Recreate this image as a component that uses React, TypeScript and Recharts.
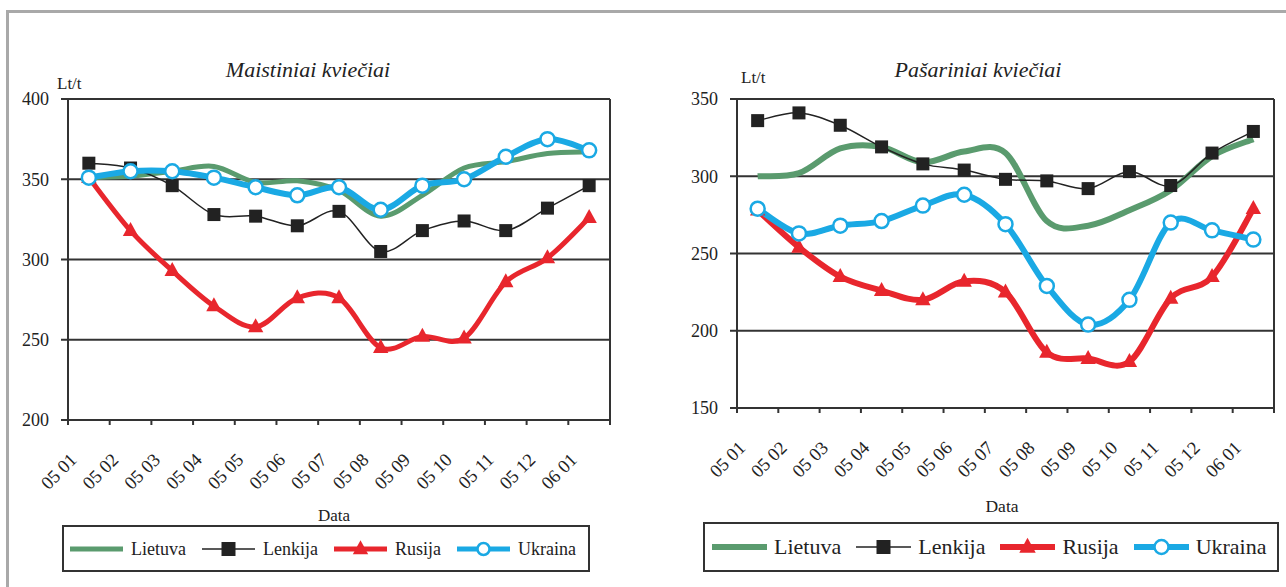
import React from "react";
import { LineChart, Line, XAxis, YAxis, CartesianGrid, ReferenceLine, Legend } from "recharts";

// ---------- data ----------
const CATS = ["05 01", "05 02", "05 03", "05 04", "05 05", "05 06", "05 07", "05 08", "05 09", "05 10", "05 11", "05 12", "06 01"];

// Maistiniai kviečiai (food wheat), Lt/t
const FOOD_LIETUVA = [351, 352, 355, 358, 348, 349, 343, 327, 340, 357, 361, 366, 367];
const FOOD_LENKIJA = [360, 357, 346, 328, 327, 321, 330, 305, 318, 324, 318, 332, 346];
const FOOD_RUSIJA = [351, 318, 293, 271, 258, 276, 276, 245, 252, 251, 286, 301, 326];
const FOOD_UKRAINA = [351, 355, 355, 351, 345, 340, 345, 331, 346, 350, 364, 375, 368];
const FOOD_Y_TICKS = [200, 250, 300, 350, 400];

// Pašariniai kviečiai (feed wheat), Lt/t
const FEED_LIETUVA = [300, 302, 318, 319, 309, 316, 315, 271, 268, 278, 291, 313, 324];
const FEED_LENKIJA = [336, 341, 333, 319, 308, 304, 298, 297, 292, 303, 294, 315, 329];
const FEED_RUSIJA = [278, 254, 235, 226, 220, 232, 225, 186, 182, 180, 221, 235, 279];
const FEED_UKRAINA = [279, 263, 268, 271, 281, 288, 269, 229, 204, 220, 270, 265, 259];
const FEED_Y_TICKS = [150, 200, 250, 300, 350];

const SERIES_NAMES = ["Lietuva", "Lenkija", "Rusija", "Ukraina"];

// ---------- style ----------
const FONT = "'Liberation Serif', 'Times New Roman', serif";
const GREEN = "#5a9b6e";
const BLACK = "#222222";
const RED = "#e8262d";
const BLUE = "#1aa9e4";
const AXIS = "#333333";

function buildRows(lt: number[], pl: number[], ru: number[], ua: number[]) {
  return CATS.map((label, i) => ({ idx: i, label, lietuva: lt[i], lenkija: pl[i], rusija: ru[i], ukraina: ua[i] }));
}

// Excel-like smoothed line (Catmull-Rom through the points)
const excelCurve: any = (context: any) => {
  let pts: number[][] = [];
  return {
    areaStart() {},
    areaEnd() {},
    lineStart() {
      pts = [];
    },
    point(x: number, y: number) {
      pts.push([+x, +y]);
    },
    lineEnd() {
      const n = pts.length;
      if (!n) return;
      context.moveTo(pts[0][0], pts[0][1]);
      const t = 1 / 6;
      for (let i = 0; i < n - 1; i++) {
        const p0 = pts[Math.max(i - 1, 0)];
        const p1 = pts[i];
        const p2 = pts[i + 1];
        const p3 = pts[Math.min(i + 2, n - 1)];
        context.bezierCurveTo(
          p1[0] + (p2[0] - p0[0]) * t,
          p1[1] + (p2[1] - p0[1]) * t,
          p2[0] - (p3[0] - p1[0]) * t,
          p2[1] - (p3[1] - p1[1]) * t,
          p2[0],
          p2[1]
        );
      }
    },
  };
};

const squareDot = (s: number) => (p: any) =>
  p.cx == null ? <g key={`sq${p.index}`} /> : <rect key={`sq${p.index}`} x={p.cx - s / 2} y={p.cy - s / 2} width={s} height={s} fill={BLACK} />;
const triPoints = (cx: number, cy: number, s: number) =>
  `${cx},${cy - s * 0.62} ${cx + s * 0.55},${cy + s * 0.38} ${cx - s * 0.55},${cy + s * 0.38}`;
const triDot = (s: number) => (p: any) =>
  p.cx == null ? <g key={`tr${p.index}`} /> : <polygon key={`tr${p.index}`} points={triPoints(p.cx, p.cy, s)} fill={RED} />;
const circDot = (r: number, sw: number) => (p: any) =>
  p.cx == null ? <g key={`ci${p.index}`} /> : <circle key={`ci${p.index}`} cx={p.cx} cy={p.cy} r={r} fill="#fff" stroke={BLUE} strokeWidth={sw} />;

type Cfg = {
  width: number;
  height: number;
  margin: { top: number; left: number; right: number; bottom: number };
  yAxisWidth: number;
  yFont: number;
  xFont: number;
  thick: number;
  blueThick: number;
  sq: number;
  tri: number;
  circR: number;
  legend: {
    left: number; top: number; width: number; height: number; fontSize: number;
    iconW: number; padLeft: number; gapIcon: number; gapItem: number; thick: number; sq: number; tri: number; circR: number;
  };
};

function renderLegend(cfg: Cfg["legend"]) {
  const colors = [GREEN, BLACK, RED, BLUE];
  return () => (
    <div
      style={{
        width: cfg.width,
        height: cfg.height,
        boxSizing: "border-box",
        border: `2px solid ${AXIS}`,
        display: "flex",
        alignItems: "center",
        paddingLeft: cfg.padLeft,
        fontFamily: FONT,
        fontSize: cfg.fontSize,
        color: BLACK,
        background: "#fff",
        whiteSpace: "nowrap",
      }}
    >
      {SERIES_NAMES.map((name, i) => {
        const w = cfg.iconW;
        const c = w / 2;
        return (
          <div key={name} style={{ display: "flex", alignItems: "center", marginRight: cfg.gapItem }}>
            <svg width={w} height={20} style={{ display: "block" }}>
              <line x1={0} x2={w} y1={10} y2={10} stroke={colors[i]} strokeWidth={i === 1 ? 1.5 : cfg.thick} />
              {i === 1 && <rect x={c - cfg.sq / 2} y={10 - cfg.sq / 2} width={cfg.sq} height={cfg.sq} fill={BLACK} />}
              {i === 2 && <polygon points={triPoints(c, 10, cfg.tri)} fill={RED} />}
              {i === 3 && <circle cx={c} cy={10} r={cfg.circR} fill="#fff" stroke={BLUE} strokeWidth={2.5} />}
            </svg>
            <span style={{ marginLeft: cfg.gapIcon, lineHeight: 1 }}>{name}</span>
          </div>
        );
      })}
    </div>
  );
}

function WheatChart({ rows, yDomain, yTicks, cfg }: { rows: any[]; yDomain: number[]; yTicks: number[]; cfg: Cfg }) {
  const plotW = cfg.width - cfg.margin.left - cfg.margin.right - cfg.yAxisWidth;
  const half = plotW / CATS.length / 2;
  const boundaries = [...CATS.map((_, i) => i - 0.5), CATS.length - 0.5];
  const xTick = (props: any) => {
    const { x, y, payload } = props;
    const i = Math.round(payload.value + 0.5);
    if (i < 0 || i >= CATS.length) return <g />;
    const px = x + half - 11;
    const py = y + 36;
    return (
      <text x={px} y={py} textAnchor="end" transform={`rotate(-45, ${px}, ${py})`} fill={BLACK} fontSize={cfg.xFont} fontFamily={FONT}>
        {CATS[i]}
      </text>
    );
  };
  const lg = cfg.legend;
  return (
    <LineChart width={cfg.width} height={cfg.height} data={rows} margin={cfg.margin} style={{ fontFamily: FONT }}>
      <CartesianGrid vertical={false} stroke={AXIS} strokeWidth={2} strokeOpacity={1} />
      <XAxis
        dataKey="idx"
        type="number"
        domain={[-0.5, CATS.length - 0.5]}
        ticks={boundaries}
        interval={0}
        height={60}
        tickSize={5}
        tickMargin={0}
        axisLine={{ stroke: AXIS, strokeWidth: 2 }}
        tickLine={{ stroke: AXIS, strokeWidth: 2 }}
        tick={xTick}
      />
      <YAxis
        domain={yDomain}
        ticks={yTicks}
        interval={0}
        width={cfg.yAxisWidth}
        tickSize={7}
        tickMargin={12}
        axisLine={{ stroke: AXIS, strokeWidth: 2 }}
        tickLine={{ stroke: AXIS, strokeWidth: 2 }}
        tick={{ fill: BLACK, fontSize: cfg.yFont, fontFamily: FONT }}
      />
      <ReferenceLine x={CATS.length - 0.5} stroke={AXIS} strokeWidth={2} />
      <Legend
        layout="horizontal"
        verticalAlign="middle"
        align="center"
        content={renderLegend(lg)}
        wrapperStyle={{ left: lg.left, top: lg.top, width: lg.width, height: lg.height }}
      />
      <Line dataKey="lietuva" name="Lietuva" type={excelCurve} stroke={GREEN} strokeWidth={cfg.thick} dot={false} activeDot={false} isAnimationActive={false} />
      <Line dataKey="lenkija" name="Lenkija" type={excelCurve} stroke={BLACK} strokeWidth={1.5} dot={squareDot(cfg.sq)} activeDot={false} isAnimationActive={false} />
      <Line dataKey="rusija" name="Rusija" type={excelCurve} stroke={RED} strokeWidth={cfg.thick} dot={triDot(cfg.tri)} activeDot={false} isAnimationActive={false} />
      <Line dataKey="ukraina" name="Ukraina" type={excelCurve} stroke={BLUE} strokeWidth={cfg.blueThick} dot={circDot(cfg.circR, 2.5)} activeDot={false} isAnimationActive={false} />
    </LineChart>
  );
}

const FOOD_CFG: Cfg = {
  width: 640,
  height: 587,
  margin: { top: 99, left: 8, right: 30, bottom: 107 },
  yAxisWidth: 60,
  yFont: 18,
  xFont: 18.5,
  thick: 5,
  blueThick: 6,
  sq: 13,
  tri: 14,
  circR: 7,
  legend: { left: 62, top: 525, width: 528, height: 47, fontSize: 18, iconW: 53, padLeft: 6, gapIcon: 8, gapItem: 16, thick: 5, sq: 14, tri: 14, circR: 6 },
};

const FEED_CFG: Cfg = {
  width: 626,
  height: 587,
  margin: { top: 99, left: 17, right: 12, bottom: 119 },
  yAxisWidth: 60,
  yFont: 18,
  xFont: 18.5,
  thick: 6,
  blueThick: 6,
  sq: 13,
  tri: 14,
  circR: 7,
  legend: { left: 43, top: 522, width: 576, height: 50, fontSize: 22, iconW: 55, padLeft: 7, gapIcon: 7, gapItem: 15, thick: 6, sq: 14, tri: 15, circR: 7 },
};

const textStyle = (extra: any) => ({ position: "absolute" as const, fontFamily: FONT, color: BLACK, lineHeight: 1, whiteSpace: "nowrap" as const, ...extra });

export default function App() {
  const foodRows = buildRows(FOOD_LIETUVA, FOOD_LENKIJA, FOOD_RUSIJA, FOOD_UKRAINA);
  const feedRows = buildRows(FEED_LIETUVA, FEED_LENKIJA, FEED_RUSIJA, FEED_UKRAINA);
  return (
    <div style={{ position: "absolute", left: 0, top: 0, width: 1286, height: 587, background: "#fff", overflow: "hidden" }}>
      <div style={{ position: "absolute", left: 6, top: 10, width: 1280, height: 3, background: "#a9a9a9" }} />
      <div style={{ position: "absolute", left: 6, top: 10, width: 3, height: 577, background: "#a9a9a9" }} />

      <div style={{ position: "absolute", left: 0, top: 0 }}>
        <WheatChart rows={foodRows} yDomain={[200, 400]} yTicks={FOOD_Y_TICKS} cfg={FOOD_CFG} />
      </div>
      <div style={{ position: "absolute", left: 660, top: 0 }}>
        <WheatChart rows={feedRows} yDomain={[150, 350]} yTicks={FEED_Y_TICKS} cfg={FEED_CFG} />
      </div>

      <div style={textStyle({ left: 308, top: 59, fontSize: 22, fontStyle: "italic", transform: "translateX(-50%)" })}>Maistiniai kviečiai</div>
      <div style={textStyle({ left: 978, top: 59, fontSize: 22, fontStyle: "italic", transform: "translateX(-50%)" })}>Pašariniai kviečiai</div>
      <div style={textStyle({ left: 57, top: 75, fontSize: 17 })}>Lt/t</div>
      <div style={textStyle({ left: 741, top: 69, fontSize: 17 })}>Lt/t</div>
      <div style={textStyle({ left: 334, top: 507, fontSize: 17, transform: "translateX(-50%)" })}>Data</div>
      <div style={textStyle({ left: 1002, top: 498, fontSize: 17.5, transform: "translateX(-50%)" })}>Data</div>
    </div>
  );
}
